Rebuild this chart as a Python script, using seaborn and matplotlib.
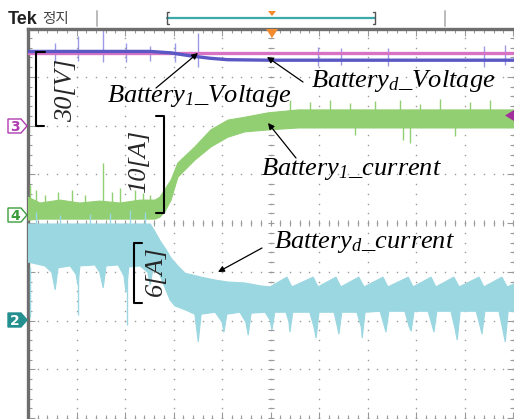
import numpy as np
import pandas as pd
import matplotlib
matplotlib.use("Agg")
import matplotlib.pyplot as plt
import seaborn as sns
from matplotlib.patches import Polygon
from matplotlib.ticker import MultipleLocator

sns.set_theme(style="white")
plt.rcParams['font.family'] = ['DejaVu Sans']
plt.rcParams['mathtext.fontset'] = 'custom'
plt.rcParams['mathtext.rm'] = 'Liberation Serif:italic'
plt.rcParams['mathtext.it'] = 'Liberation Serif:italic'

# ---- scope traces, time and level both in screen divisions ----
# Battery1 voltage (pink)
v1_t = [0.0, 10.02]
v1_y = [3.49, 3.49]
# Battery_d voltage (blue)
vd_t = [0.0, 2.52, 2.95, 3.34, 3.75, 4.12, 4.99, 10.02]
vd_y = [3.52, 3.52, 3.49, 3.43, 3.38, 3.35, 3.34, 3.34]
# switching spikes on the voltage trace
vsp_t = [0.56, 1.03, 1.55, 2.02, 2.52, 3.03, 3.51, 5.98, 6.45, 7.42, 9.40, 9.84]
vsp_top = [3.69, 3.84, 3.96, 3.69, 3.63, 3.69, 3.90, 3.62, 3.60, 3.58, 3.64, 3.66]
vsp_bot = [3.30, 3.32, 3.30, 3.30, 3.33, 3.30, 3.20, 3.22, 3.24, 3.22, 3.20, 3.24]

# Battery1 current (green) envelope
i1_t = [0.00, 0.25, 0.66, 1.07, 1.48, 1.90, 2.31, 2.62, 2.72, 2.82,
        2.95, 3.09, 3.44, 3.77, 4.12, 4.47, 4.95, 5.57, 10.02]
i1_hi = [0.53, 0.41, 0.47, 0.41, 0.45, 0.41, 0.47, 0.47, 0.53, 0.68,
         0.88, 1.23, 1.56, 1.91, 2.11, 2.17, 2.26, 2.32, 2.32]
i1_lo = [0.06, 0.08, 0.08, 0.08, 0.08, 0.08, 0.08, 0.08, 0.12, 0.23,
         0.47, 0.94, 1.29, 1.56, 1.76, 1.87, 1.91, 1.95, 1.95]
# noise spikes on the green trace
i1sp_t = [0.04, 0.16, 0.35, 0.62, 0.91, 1.18, 1.55, 1.73, 1.90, 2.21, 2.37, 2.52,
          5.40, 5.81, 6.23, 6.64, 7.15, 7.67, 8.08, 8.49, 9.11, 9.53,
          7.73, 7.88, 6.74, 8.80]
i1sp_from = [0.40] * 12 + [2.28] * 10 + [1.98] * 4
i1sp_to = [0.78, 0.68, 0.57, 0.64, 0.68, 0.57, 1.23, 0.64, 0.72, 0.68, 0.62, 0.57,
           2.52, 2.48, 2.52, 2.46, 2.50, 2.52, 2.44, 2.54, 2.48, 2.52,
           1.70, 1.64, 1.81, 1.78]

# Battery_d current (cyan) envelope
id_hi_t = [0.00, 2.52, 2.62, 2.74, 2.85, 2.95, 3.09, 3.24,
           3.57, 3.86, 4.12, 4.47, 4.80, 4.99,
           5.34, 5.44, 5.88, 5.98, 6.35, 6.45, 6.82, 6.93, 7.32, 7.42,
           7.84, 7.94, 8.31, 8.41, 8.78, 8.89, 9.30, 9.40, 9.77, 9.88, 10.02]
id_hi_y = [-0.02, -0.02, -0.18, -0.39, -0.55, -0.72, -0.88, -1.03,
           -1.11, -1.17, -1.21, -1.23, -1.29, -1.31,
           -1.11, -1.31, -1.11, -1.31, -1.11, -1.31, -1.11, -1.31, -1.11, -1.31,
           -1.11, -1.31, -1.11, -1.31, -1.11, -1.31, -1.11, -1.31, -1.11, -1.31, -1.25]
id_lo_t = [0.00, 0.35,
           0.49, 0.56, 0.62, 0.87,
           0.99, 1.03, 1.07, 1.38,
           1.48, 1.55, 1.61, 1.86,
           1.98, 2.02, 2.08, 2.31,
           2.47, 2.52, 2.58, 2.72,
           2.93, 3.03, 3.24, 3.44,
           3.51, 3.57, 3.86,
           4.00, 4.04, 4.10, 4.37,
           4.49, 4.54, 4.60, 4.89,
           4.99, 5.03, 5.09, 5.32,
           5.38, 5.40, 5.46, 5.81,
           5.90, 5.94, 6.00, 6.31,
           6.37, 6.41, 6.47, 6.78,
           6.87, 6.89, 6.95, 7.26,
           7.34, 7.38, 7.44, 7.77,
           7.86, 7.90, 7.96, 8.25,
           8.33, 8.37, 8.43, 8.72,
           8.80, 8.85, 8.91, 9.24,
           9.32, 9.36, 9.42, 9.71,
           9.79, 9.84, 9.90, 10.02]
id_lo_y = [-0.80, -0.88,
           -1.01, -1.37, -0.92, -0.88,
           -1.05, -1.27, -0.88, -0.86,
           -1.01, -1.33, -0.88, -0.86,
           -1.09, -1.42, -0.90, -0.88,
           -1.01, -1.27, -0.92, -1.07,
           -1.58, -1.70, -1.78, -1.87,
           -2.44, -1.87, -1.83,
           -2.03, -2.24, -1.87, -1.83,
           -2.03, -2.30, -1.85, -1.83,
           -1.99, -2.19, -1.83, -1.83,
           -2.03, -2.24, -1.83, -1.83,
           -2.15, -2.36, -1.83, -1.83,
           -2.09, -2.28, -1.83, -1.83,
           -2.13, -2.36, -1.83, -1.81,
           -2.09, -2.24, -1.81, -1.81,
           -2.13, -2.22, -1.81, -1.81,
           -2.09, -2.24, -1.81, -1.81,
           -2.15, -2.40, -1.81, -1.81,
           -2.11, -2.28, -1.81, -1.81,
           -2.19, -2.44, -1.81, -1.81]
# narrow spikes on the cyan trace
idsp_t = [0.16, 0.66, 1.28, 1.69, 2.10, 2.41, 0.04, 1.03, 2.04]
idsp_from = [-0.05, -0.05, -0.05, -0.05, -0.05, -0.05, -0.90, -1.00, -1.00]
idsp_to = [0.23, 0.16, 0.18, 0.21, 0.27, 0.23, -1.93, -1.89, -2.09]

# colours
C_PINK = "#d772c4"
C_BLUE = "#5a58c4"
C_BLUE_SP = "#9c9ae6"
C_GREEN = "#92cf72"
C_CYAN = "#9bd7e1"
C_GRID = "#9a9a9a"
C_FRAME = "#6e6e6e"

W, H = 514, 419
fig = plt.figure(figsize=(W / 100, H / 100), dpi=100)
ax = fig.add_axes([28 / W, 0, 486 / W, 390 / H])
ax.set_xlim(0, 10.02)
ax.set_ylim(-4.02, 3.98)

# graticule: dotted division lines plus centre cross
sub = np.arange(0, 10.01, 0.2)
subv = np.arange(-4.0, 3.99, 0.2)
for xv in range(1, 11):
    ax.plot(np.full(subv.size, xv), subv, ls="none", marker="s", ms=1.0,
            mec="none", mfc=C_GRID, zorder=1)
for yv in range(-4, 4):
    ax.plot(sub, np.full(sub.size, yv), ls="none", marker="s", ms=1.0,
            mec="none", mfc=C_GRID, zorder=1)
ax.plot(np.full(subv.size, 5), subv, ls="none", marker="_", ms=5, mew=0.8,
        color=C_GRID, zorder=1)
ax.plot(sub, np.zeros(sub.size), ls="none", marker="|", ms=5, mew=0.8,
        color=C_GRID, zorder=1)

# voltage traces
df_v1 = pd.DataFrame({"t": v1_t, "v": v1_y})
df_vd = pd.DataFrame({"t": vd_t, "v": vd_y})
ax.vlines(vsp_t, vsp_bot, vsp_top, color=C_BLUE_SP, lw=1.0, zorder=2)
sns.lineplot(data=df_v1, x="t", y="v", ax=ax, color=C_PINK, lw=2.4, zorder=3)
sns.lineplot(data=df_vd, x="t", y="v", ax=ax, color=C_BLUE, lw=2.4, zorder=4)

# Battery1 current
ax.fill(np.r_[i1_t, i1_t[::-1]], np.r_[i1_hi, i1_lo[::-1]],
        color=C_GREEN, lw=0.8, zorder=5)
ax.vlines(i1sp_t, i1sp_from, i1sp_to, color=C_GREEN, lw=1.0, zorder=5)

# Battery_d current
ax.fill(np.r_[id_hi_t, id_lo_t[::-1]], np.r_[id_hi_y, id_lo_y[::-1]],
        color=C_CYAN, lw=0.8, zorder=6)
ax.vlines(idsp_t, idsp_from, idsp_to, color=C_CYAN, lw=1.0, zorder=6)

# frame and edge ticks
ax.set_xlabel("")
ax.set_ylabel("")
for side in ("bottom", "right"):
    ax.spines[side].set_visible(False)
for side in ("left", "top"):
    ax.spines[side].set_visible(True)
    ax.spines[side].set_color(C_FRAME)
    ax.spines[side].set_linewidth(2.4)
ax.xaxis.set_major_locator(MultipleLocator(1))
ax.xaxis.set_minor_locator(MultipleLocator(0.2))
ax.yaxis.set_major_locator(MultipleLocator(1))
ax.yaxis.set_minor_locator(MultipleLocator(0.2))
ax.tick_params(which="both", direction="in", top=True, bottom=True, left=True,
               right=True, labelbottom=False, labelleft=False, color=C_GRID,
               width=0.8)
ax.tick_params(which="major", length=5)
ax.tick_params(which="minor", length=3)
ax.set_facecolor("white")

# ---- overlay in pixel coordinates for scope furniture and labels ----
ov = fig.add_axes([0, 0, 1, 1])
ov.set_xlim(0, W)
ov.set_ylim(H, 0)
ov.axis("off")
ov.patch.set_alpha(0)

ov.text(8, 19, "Tek", fontsize=13, fontweight="bold", color="#222222",
        family="Liberation Sans", va="center", ha="left")
ov.text(42, 19, "정지", fontsize=10.5, color="#444444",
        family=["Noto Sans CJK KR", "DejaVu Sans"], va="center", ha="left")
for xg in (97, 445):
    ov.plot([xg, xg], [11, 26], color="#bbbbbb", lw=1.4)
ov.plot([167, 375], [18.5, 18.5], color="#3aa9a8", lw=1.6)
ov.plot([169, 167, 167, 169], [12, 12, 24, 24], color="#555555", lw=1.0)
ov.plot([373, 375, 375, 373], [12, 12, 24, 24], color="#555555", lw=1.0)
ov.add_patch(Polygon([[268, 11], [276, 11], [272, 16]], closed=True,
                     color="#f28a2e", lw=0))
ov.add_patch(Polygon([[266, 29], [278, 29], [272, 38]], closed=True,
                     color="#f28a2e", lw=0))
ov.add_patch(Polygon([[514, 110], [514, 121], [505, 115.5]], closed=True,
                     color="#a2309c", lw=0))

# channel markers
def chan(yc, label, edge, fill, txt):
    pts = [[8, yc - 7], [21, yc - 7], [27, yc], [21, yc + 7], [8, yc + 7]]
    ov.add_patch(Polygon(pts, closed=True, facecolor=fill, edgecolor=edge, lw=1.0))
    ov.text(15, yc + 0.5, label, color=txt, fontsize=10, fontweight="bold",
            ha="center", va="center", family="DejaVu Sans")

chan(126, "3", "#b03cb0", "white", "#b03cb0")
chan(215, "4", "#3c9c3c", "white", "#3c9c3c")
chan(320, "2", "#23908f", "#23908f", "white")

# annotations
FS = 19
lab = dict(fontsize=FS, style="italic", family="Liberation Serif", color="black",
           va="center", ha="left")
ov.text(107, 96, "Battery$_{1}$_Voltage", **lab)
ov.text(311, 81, "Battery$_{d}$_Voltage", **lab)
ov.text(261, 169, "Battery$_{1}$_current", **lab)
ov.text(274, 242, "Battery$_{d}$_current", **lab)

arr = dict(arrowstyle="-|>", color="black", lw=0.9, mutation_scale=9,
           shrinkA=0, shrinkB=0)
ov.annotate("", xy=(198, 53), xytext=(156, 88), arrowprops=arr)
ov.annotate("", xy=(267, 57), xytext=(303, 82), arrowprops=arr)
ov.annotate("", xy=(268, 123), xytext=(296, 158), arrowprops=arr)
ov.annotate("", xy=(218, 272), xytext=(262, 248), arrowprops=arr)

# scale brackets
ov.plot([45, 36, 36, 44], [52, 52, 126, 126], color="black", lw=1.5)
ov.text(66, 90, "30[V]", rotation=90, fontsize=FS, style="italic",
        family="Liberation Serif", ha="center", va="center")
ov.plot([156, 164, 164, 156], [116, 116, 213, 213], color="black", lw=1.5)
ov.text(139, 161, "10[A]", rotation=90, fontsize=FS, style="italic",
        family="Liberation Serif", ha="center", va="center")
ov.plot([142, 134, 134, 142], [243, 243, 303, 303], color="black", lw=1.5)
ov.text(156, 271, "6[A]", rotation=90, fontsize=FS, style="italic",
        family="Liberation Serif", ha="center", va="center")

fig.savefig("out.png", dpi=100)
